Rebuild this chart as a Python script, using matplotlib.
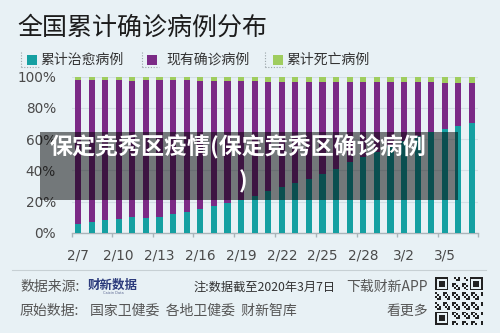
import matplotlib
matplotlib.use('Agg')
import matplotlib.pyplot as plt
import numpy as np
from matplotlib.patches import Rectangle
from matplotlib.lines import Line2D

# ---- data (percent of cumulative confirmed cases) ----
dates = ['2/7', '2/8', '2/9', '2/10', '2/11', '2/12', '2/13', '2/14', '2/15', '2/16',
         '2/17', '2/18', '2/19', '2/20', '2/21', '2/22', '2/23', '2/24', '2/25', '2/26',
         '2/27', '2/28', '2/29', '3/1', '3/2', '3/3', '3/4', '3/5', '3/6', '3/7']
cured = [5.6, 7.0, 8.0, 9.1, 10.3, 9.5, 10.3, 11.8, 13.4, 15.0,
         17.1, 18.9, 21.0, 23.6, 26.5, 29.2, 31.7, 34.6, 37.7, 40.9,
         45.5, 48.8, 51.9, 55.4, 58.7, 61.9, 64.3, 66.2, 68.2, 70.2]
existing = [92.3, 90.8, 89.7, 88.5, 87.2, 88.2, 87.5, 85.9, 84.2, 82.5,
            80.3, 78.4, 76.2, 73.4, 70.4, 67.6, 64.9, 62.0, 58.8, 55.6,
            51.0, 47.6, 44.5, 41.0, 37.6, 34.4, 32.0, 30.0, 28.0, 26.0]
dead = [2.1, 2.2, 2.3, 2.4, 2.5, 2.3, 2.2, 2.3, 2.4, 2.5,
        2.6, 2.7, 2.8, 3.0, 3.1, 3.2, 3.4, 3.4, 3.5, 3.5,
        3.5, 3.6, 3.6, 3.6, 3.7, 3.7, 3.7, 3.8, 3.8, 3.8]
series_names = ['累计治愈病例', '现有确诊病例', '累计死亡病例']
yticks = [0, 20, 40, 60, 80, 100]

BG = '#e8f1f5'
TEAL = '#15a0a2'
PURPLE = '#7b2a86'
GREEN = '#9fcd5e'
CJK = ['Noto Sans CJK SC', 'DejaVu Sans']

W, H = 500, 333
fig = plt.figure(figsize=(5, 3.33), dpi=100, facecolor=BG)


def X(px):
    return px / W


def Y(py):
    return 1 - py / H


# ---- main axes ----
ax = fig.add_axes([X(72), Y(232.7), (478 - 72) / W, (232.7 - 76.7) / H])
ax.set_facecolor(BG)
n = len(dates)
x = np.arange(n)
cured_a = np.array(cured)
exist_a = np.array(existing)
dead_a = np.array(dead)
ax.bar(x, cured_a, width=0.45, color=TEAL, zorder=3)
ax.bar(x, exist_a, bottom=cured_a, width=0.45, color=PURPLE, zorder=3)
ax.bar(x, dead_a, bottom=cured_a + exist_a, width=0.45, color=GREEN, zorder=3)
ax.set_xlim(-0.44, n - 1 + 0.44)
ax.set_ylim(0, 100)
for s in ['top', 'right', 'left']:
    ax.spines[s].set_visible(False)
ax.spines['bottom'].set_color('#a9b4b9')
ax.spines['bottom'].set_linewidth(1.0)
ax.set_yticks(yticks)
ax.set_yticklabels([f'{v}%' for v in yticks], fontsize=9.8, color='#4a4a4a',
                   family='DejaVu Sans')
ax.tick_params(axis='y', length=0, pad=11.5)
ax.yaxis.grid(True, color='#d4dfe5', lw=0.8)
ax.set_axisbelow(True)
ax.set_xticks(x[::3])
ax.set_xticklabels(dates[::3], fontsize=9.8, color='#4a4a4a', family='DejaVu Sans')
ax.tick_params(axis='x', which='major', length=0, pad=11.5)
ax.set_xticks([-0.44] + [2.5 + 3 * k for k in range(9)] + [n - 1 + 0.44], minor=True)
ax.tick_params(axis='x', which='minor', length=3, width=1.0, color='#a9b4b9',
               direction='out')

# ---- title ----
fig.text(X(17), Y(28), '全国累计确诊病例分布', fontsize=18, color='#1c1c1c',
         family=CJK, ha='left', va='center')

# ---- legend ----
leg = [(21, 27, 40, TEAL), (142, 147, 166, PURPLE), (265, 273, 286, GREEN)]
for (lx, sx, tx, c), name in zip(leg, series_names):
    fig.patches.append(Rectangle((X(sx), Y(65)), 10 / W, 10 / H, transform=fig.transFigure,
                                 facecolor=c, edgecolor='none'))
    fig.lines.append(Line2D([X(lx), X(lx)], [Y(52), Y(67)], transform=fig.transFigure,
                            color='#9aa4a8', lw=0.8, ls=(0, (1, 1.5))))
    fig.lines.append(Line2D([X(lx), X(sx + 12)], [Y(67), Y(67)], transform=fig.transFigure,
                            color='#9aa4a8', lw=0.8, ls=(0, (1, 1.5))))
    fig.text(X(tx), Y(60), name, fontsize=10, color='#333333', family=CJK,
             ha='left', va='center')

# ---- overlay watermark box ----
fig.patches.append(Rectangle((X(40), Y(200)), (458 - 40) / W, (200 - 131.7) / H,
                             transform=fig.transFigure, facecolor='black', alpha=0.5,
                             edgecolor='none', zorder=10))
fig.text(X(238), Y(146), '保定竞秀区疫情(保定竞秀区确诊病例', fontsize=16.6, weight='bold',
         color='white', family=CJK, ha='center', va='center', zorder=11)
fig.text(X(243), Y(182), ')', fontsize=16.6, weight='bold',
         color='white', family=CJK, ha='center', va='center', zorder=11)

# ---- footer ----
fig.lines.append(Line2D([X(12), X(486)], [Y(269.5), Y(269.5)], transform=fig.transFigure,
                        color='#c7d0d4', lw=0.8))
fig.text(X(20), Y(287), '数据来源:', fontsize=10, color='#555555', family=CJK,
         ha='left', va='center')
fig.text(X(113), Y(285), '财新数据', fontsize=9, weight='bold', color='#2c3b7c',
         family=CJK, ha='center', va='center')
fig.text(X(113), Y(293.5), 'Caixin Data', fontsize=2.5, color='#5a6690',
         family='DejaVu Sans', ha='center', va='center')
fig.text(X(193), Y(287), '注:数据截至2020年3月7日', fontsize=8.8, color='#333333',
         family=CJK, ha='left', va='center')
fig.text(X(428), Y(287), '下载财新APP', fontsize=10, color='#555555', family=CJK,
         ha='right', va='center')
fig.text(X(20), Y(311), '原始数据:', fontsize=10, color='#555555', family=CJK,
         ha='left', va='center')
fig.text(X(90), Y(311), '国家卫健委  各地卫健委  财新智库', fontsize=10,
         color='#555555', family=CJK, ha='left', va='center')
fig.text(X(428), Y(311), '看更多', fontsize=10, color='#555555', family=CJK,
         ha='right', va='center')

# ---- QR code decoration (deterministic pattern) ----
qa = fig.add_axes([X(435), Y(325), 48 / W, 48 / H])
N = 25
ii, jj = np.meshgrid(np.arange(N), np.arange(N), indexing='ij')
qr = (((ii * 7 + jj * 13 + ii * jj) % 5) < 2).astype(float)


def finder(r, c):
    qr[r:r + 8, c:c + 8] = 0
    qr[r:r + 7, c:c + 7] = 1
    qr[r + 1:r + 6, c + 1:c + 6] = 0
    qr[r + 2:r + 5, c + 2:c + 5] = 1


finder(0, 0)
finder(0, N - 7)
finder(N - 7, 0)
qr[0:7, N - 8] = 0
qr[N - 8, 0:7] = 0
qa.imshow(qr, cmap=matplotlib.colors.ListedColormap([BG, '#222222']),
          interpolation='nearest', aspect='auto')
qa.axis('off')

fig.savefig('out.png', dpi=100, facecolor=BG)
